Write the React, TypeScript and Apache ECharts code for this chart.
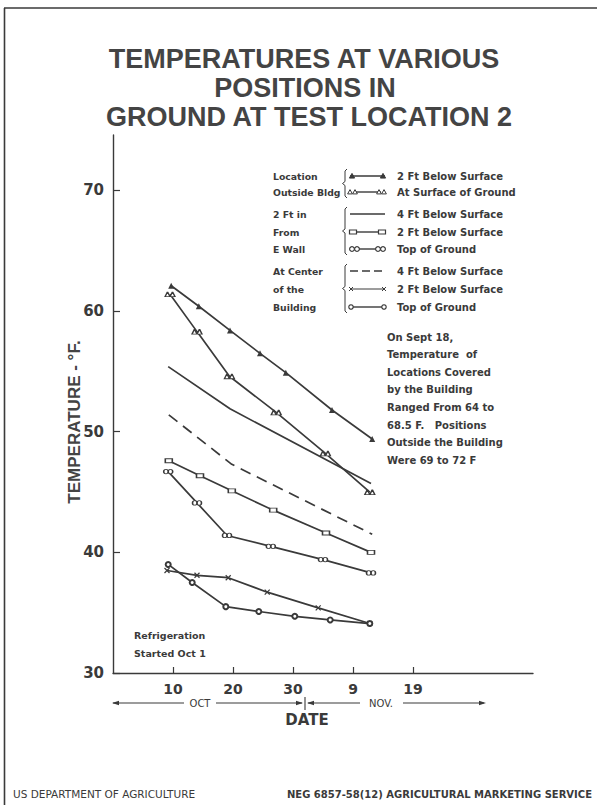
import React, { useEffect, useRef } from 'react';
import * as echarts from 'echarts';

// ---------- DATA ----------
// x = day counted from Sept 30 (Oct 10 = 10, Oct 31 = 31, Nov 9 = 40)
const seriesNames = [
  'Location Outside Bldg - 2 Ft Below Surface',
  'Location Outside Bldg - At Surface of Ground',
  '2 Ft in From E Wall - 4 Ft Below Surface',
  '2 Ft in From E Wall - 2 Ft Below Surface',
  '2 Ft in From E Wall - Top of Ground',
  'At Center of the Building - 4 Ft Below Surface',
  'At Center of the Building - 2 Ft Below Surface',
  'At Center of the Building - Top of Ground',
];

const outside2ftDays = [9.7, 14.3, 19.5, 24.5, 28.8, 36.5, 43.2];
const outside2ftTemps = [62.1, 60.4, 58.4, 56.5, 54.9, 51.8, 49.4];

const outsideSurfDays = [9.5, 14, 19.4, 27.2, 35.4, 42.8];
const outsideSurfTemps = [61.4, 58.3, 54.6, 51.6, 48.2, 45.0];

const wall4ftDays = [9.2, 19.5, 43];
const wall4ftTemps = [55.4, 51.9, 45.7];

const wall2ftDays = [9.3, 14.5, 19.8, 26.7, 35.5, 43];
const wall2ftTemps = [47.6, 46.35, 45.1, 43.5, 41.6, 40.0];

const wallTopDays = [9.2, 14, 19, 26.3, 35, 43];
const wallTopTemps = [46.7, 44.1, 41.4, 40.5, 39.4, 38.3];

const center4ftDays = [9.3, 19.8, 43.2];
const center4ftTemps = [51.4, 47.3, 41.5];

const center2ftDays = [9, 14, 19.2, 25.7, 34.2, 42.8];
const center2ftTemps = [38.5, 38.1, 37.9, 36.7, 35.4, 34.1];

const centerTopDays = [9.2, 13.2, 18.8, 24.3, 30.3, 36.2, 42.8];
const centerTopTemps = [39.0, 37.5, 35.5, 35.1, 34.7, 34.4, 34.1];

const yTickValues = [30, 40, 50, 60, 70];
const xTickValues = [10, 20, 30, 40, 50];
const xTickLabels = ['10', '20', '30', '9', '19'];

const titleLines = ['TEMPERATURES AT VARIOUS', 'POSITIONS IN', 'GROUND AT TEST LOCATION 2'];
const legendGroupLabels = [
  ['Location', 'Outside Bldg'],
  ['2 Ft in', 'From', 'E Wall'],
  ['At Center', 'of the', 'Building'],
];
const legendItemLabels = [
  '2 Ft Below Surface', 'At Surface of Ground',
  '4 Ft Below Surface', '2 Ft Below Surface', 'Top of Ground',
  '4 Ft Below Surface', '2 Ft Below Surface', 'Top of Ground',
];
const noteLines = [
  'On Sept 18,', 'Temperature  of', 'Locations Covered', 'by the Building',
  'Ranged From 64 to', '68.5 F.   Positions', 'Outside the Building', 'Were 69 to 72 F',
];
const refrigLines = ['Refrigeration', 'Started Oct 1'];

// ---------- STYLE ----------
const INK = '#3a3a3a';
const FONT = '"DejaVu Sans", "Liberation Sans", sans-serif';

const pair = (d: number[], t: number[]) => d.map((v, i) => [v, t[i]]);

const DOUBLE_TRI = 'path://M0,10L5,0L10,10ZM10,10L15,0L20,10Z';
const DOUBLE_CIRC = 'path://M0,5a5,5 0 1,0 10,0a5,5 0 1,0 -10,0zM10,5a5,5 0 1,0 10,0a5,5 0 1,0 -10,0z';
const CROSS = 'path://M0,0L10,10M10,0L0,10';

function txt(x: number, y: number, text: string, size: number, opts: any = {}) {
  return {
    type: 'text',
    x,
    y,
    silent: true,
    z: 50,
    rotation: opts.rotation || 0,
    style: {
      text,
      fill: opts.fill || INK,
      font: `${opts.weight || 'bold'} ${size}px ${opts.family || FONT}`,
      align: opts.align || 'left',
      textAlign: opts.align || 'left',
      verticalAlign: 'middle',
      textVerticalAlign: 'middle',
    },
  };
}
function seg(x1: number, y1: number, x2: number, y2: number, w = 1.4, dash?: number[]) {
  return {
    type: 'line',
    silent: true,
    z: 50,
    shape: { x1, y1, x2, y2 },
    style: { stroke: INK, lineWidth: w, lineDash: dash },
  };
}
function tri(cx: number, cy: number, s: number, fill = INK) {
  return {
    type: 'polygon',
    silent: true,
    z: 51,
    shape: { points: [[cx - s, cy + s * 0.8], [cx + s, cy + s * 0.8], [cx, cy - s]] },
    style: { fill, stroke: INK, lineWidth: 1 },
  };
}
function circ(cx: number, cy: number, r: number) {
  return {
    type: 'circle',
    silent: true,
    z: 51,
    shape: { cx, cy, r },
    style: { fill: '#fff', stroke: INK, lineWidth: 1.2 },
  };
}
function rectM(cx: number, cy: number) {
  return {
    type: 'rect',
    silent: true,
    z: 51,
    shape: { x: cx - 3.5, y: cy - 2, width: 7, height: 4 },
    style: { fill: '#fff', stroke: INK, lineWidth: 1.2 },
  };
}
function crossM(cx: number, cy: number) {
  return [seg(cx - 2, cy - 2, cx + 2, cy + 2, 1), seg(cx - 2, cy + 2, cx + 2, cy - 2, 1)];
}
function brace(x: number, top: number, bottom: number) {
  const mid = (top + bottom) / 2;
  return {
    type: 'polyline',
    silent: true,
    z: 50,
    shape: {
      points: [
        [x + 3, top], [x + 1, top + 2], [x + 1, mid - 2], [x - 1.5, mid], [x + 1, mid + 2], [x + 1, bottom - 2], [x + 3, bottom],
      ],
    },
    style: { stroke: INK, lineWidth: 1, fill: 'none' },
  };
}
function arrowHead(x: number, y: number, dir: number) {
  return {
    type: 'polygon',
    silent: true,
    z: 50,
    shape: { points: [[x, y], [x - dir * 7, y - 2.2], [x - dir * 7, y + 2.2]] },
    style: { fill: INK },
  };
}

function buildGraphic() {
  const g: any[] = [];
  // frame
  g.push(seg(4, 8, 597, 8, 1.6));
  g.push(seg(4.5, 8, 4.5, 805, 1.6));
  // title
  const titleX = [304, 305, 309];
  const titleY = [59, 88, 117];
  titleLines.forEach((t, i) =>
    g.push(txt(titleX[i], titleY[i], t, 27, { align: 'center', family: '"Liberation Sans", Arial, sans-serif', fill: '#444' }))
  );
  // y axis name
  g.push(txt(74, 422, 'TEMPERATURE - °F.', 17, { align: 'center', rotation: Math.PI / 2, family: '"Liberation Sans", Arial, sans-serif', fill: '#444' }));

  // legend
  const rowY = [176, 192, 214, 232, 249, 271, 289, 307];
  const groupRows = [[0, 1], [2, 3, 4], [5, 6, 7]];
  groupRows.forEach((rows, gi) => {
    rows.forEach((r, k) => g.push(txt(273, rowY[r], legendGroupLabels[gi][k], 9.3)));
    const top = rowY[rows[0]] - 7;
    const bottom = rowY[rows[rows.length - 1]] + 6;
    g.push(brace(344, top, bottom));
  });
  legendItemLabels.forEach((t, i) => g.push(txt(397, rowY[i], t, 10)));
  const L1 = 350, L2 = 385;
  // row 0: triangles
  g.push(seg(L1, rowY[0], L2, rowY[0], 1.4));
  g.push(tri(352, rowY[0], 2.6), tri(383, rowY[0], 2.6));
  // row 1: double triangles
  g.push(seg(L1 + 4, rowY[1], L2 - 4, rowY[1], 1.4));
  g.push(tri(350, rowY[1], 2.4, '#fff'), tri(355, rowY[1], 2.4, '#fff'), tri(379, rowY[1], 2.4, '#fff'), tri(384, rowY[1], 2.4, '#fff'));
  // row 2: plain
  g.push(seg(L1, rowY[2], L2, rowY[2], 1.4));
  // row 3: rects
  g.push(seg(L1 + 3, rowY[3], L2 - 3, rowY[3], 1.4));
  g.push(rectM(353, rowY[3]), rectM(382, rowY[3]));
  // row 4: double circles
  g.push(seg(L1 + 6, rowY[4], L2 - 6, rowY[4], 1.4));
  g.push(circ(352, rowY[4], 2.4), circ(357, rowY[4], 2.4), circ(378, rowY[4], 2.4), circ(383, rowY[4], 2.4));
  // row 5: dashed
  g.push(seg(L1, rowY[5], L2, rowY[5], 1.4, [8, 4]));
  // row 6: cross thin
  g.push(seg(L1 + 2, rowY[6], L2 - 2, rowY[6], 1));
  g.push(...crossM(351, rowY[6]), ...crossM(384, rowY[6]));
  // row 7: circles
  g.push(seg(L1 + 2, rowY[7], L2 - 2, rowY[7], 1.4));
  g.push(circ(351, rowY[7], 2.2), circ(384, rowY[7], 2.2));

  // note
  noteLines.forEach((t, i) => g.push(txt(387, 337 + i * 17.6, t, 10)));
  // refrigeration
  refrigLines.forEach((t, i) => g.push(txt(134, 635 + i * 18, t, 9.5)));

  // OCT / NOV arrows
  const ay = 703;
  g.push(seg(113, ay, 184, ay, 1.1), seg(216, ay, 302, ay, 1.1));
  g.push(arrowHead(112, ay, -1), arrowHead(303, ay, 1));
  g.push(txt(200, ay, 'OCT', 10, { align: 'center', weight: 'normal' }));
  g.push(seg(305, ay - 6, 305, ay + 7, 1.1));
  g.push(seg(308, ay, 360, ay, 1.1), seg(403, ay, 484, ay, 1.1));
  g.push(arrowHead(307, ay, -1), arrowHead(486, ay, 1));
  g.push(txt(381, ay, 'NOV.', 10, { align: 'center', weight: 'normal' }));
  g.push(txt(307, 720, 'DATE', 15, { align: 'center' }));

  // footer
  g.push(txt(13, 794, 'US DEPARTMENT OF AGRICULTURE', 10.5, { weight: 'normal' }));
  g.push(txt(592, 794, 'NEG 6857-58(12) AGRICULTURAL MARKETING SERVICE', 10, { align: 'right' }));
  return g;
}

function lineSeries(name: string, data: number[][], extra: any) {
  return {
    type: 'line',
    name,
    data,
    showSymbol: true,
    showAllSymbol: true,
    color: INK,
    lineStyle: { color: INK, width: 1.7, type: 'solid' },
    itemStyle: { color: INK },
    emphasis: { disabled: true },
    z: 10,
    ...extra,
  };
}

export default function App() {
  const ref = useRef<HTMLDivElement>(null);
  useEffect(() => {
    if (!ref.current) return;
    const chart = echarts.init(ref.current, undefined, { renderer: 'svg' });
    const series = [
      lineSeries(seriesNames[0], pair(outside2ftDays, outside2ftTemps), {
        symbol: 'triangle', symbolSize: 6,
      }),
      lineSeries(seriesNames[1], pair(outsideSurfDays, outsideSurfTemps), {
        symbol: DOUBLE_TRI, symbolSize: [10, 5],
        itemStyle: { color: '#fff', borderColor: INK, borderWidth: 1.1 },
      }),
      lineSeries(seriesNames[2], pair(wall4ftDays, wall4ftTemps), { symbol: 'none' }),
      lineSeries(seriesNames[3], pair(wall2ftDays, wall2ftTemps), {
        symbol: 'rect', symbolSize: [7, 4],
        itemStyle: { color: '#fff', borderColor: INK, borderWidth: 1.2 },
      }),
      lineSeries(seriesNames[4], pair(wallTopDays, wallTopTemps), {
        symbol: DOUBLE_CIRC, symbolSize: [9, 4.5],
        itemStyle: { color: '#fff', borderColor: INK, borderWidth: 1.1 },
      }),
      lineSeries(seriesNames[5], pair(center4ftDays, center4ftTemps), {
        symbol: 'none',
        lineStyle: { color: INK, width: 1.7, type: [11, 7] },
      }),
      lineSeries(seriesNames[6], pair(center2ftDays, center2ftTemps), {
        symbol: CROSS, symbolSize: 5,
        itemStyle: { color: INK, borderColor: INK, borderWidth: 1.2 },
      }),
      lineSeries(seriesNames[7], pair(centerTopDays, centerTopTemps), {
        symbol: 'emptyCircle', symbolSize: 5,
        itemStyle: { color: INK, borderWidth: 1.2 },
      }),
    ];

    chart.setOption({
      animation: false,
      backgroundColor: '#ffffff',
      grid: { left: 113, top: 135, width: 420, height: 538, containLabel: false },
      xAxis: {
        type: 'value',
        min: 0,
        max: 70,
        interval: 10,
        axisLine: { show: true, onZero: false, lineStyle: { color: INK, width: 1.4 } },
        axisTick: { show: true, inside: true, length: 6, customValues: xTickValues, lineStyle: { color: INK, width: 1.2 } },
        axisLabel: {
          customValues: xTickValues,
          formatter: (v: number) => xTickLabels[xTickValues.indexOf(v)] ?? '',
          color: INK,
          fontSize: 14,
          fontWeight: 'bold',
          fontFamily: FONT,
          margin: 9,
        },
        splitLine: { show: false },
      },
      yAxis: {
        type: 'value',
        min: 30,
        max: 74.6,
        interval: 10,
        axisLine: { show: true, onZero: false, lineStyle: { color: INK, width: 1.4 } },
        axisTick: { show: true, inside: true, length: 7, customValues: yTickValues, lineStyle: { color: INK, width: 1.2 } },
        axisLabel: {
          customValues: yTickValues,
          color: INK,
          fontSize: 15,
          fontWeight: 'bold',
          fontFamily: FONT,
          margin: 9,
        },
        splitLine: { show: false },
      },
      series,
      graphic: buildGraphic(),
    });
    return () => chart.dispose();
  }, []);
  return (
    <div
      ref={ref}
      style={{ position: 'fixed', left: 0, top: 0, width: 597, height: 805, background: '#fff' }}
    />
  );
}
